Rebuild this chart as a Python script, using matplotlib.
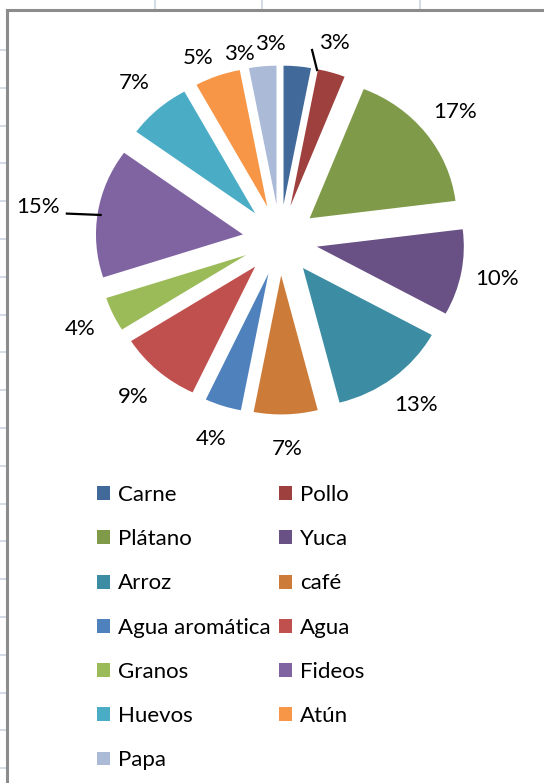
import matplotlib
matplotlib.use("Agg")
import matplotlib.pyplot as plt
from matplotlib.patches import Patch
import numpy as np

plt.rcParams['font.family'] = ['Lato', 'DejaVu Sans']

# data (percent of total)
categorias = ['Carne', 'Pollo', 'Plátano', 'Yuca', 'Arroz', 'café',
              'Agua aromática', 'Agua', 'Granos', 'Fideos', 'Huevos',
              'Atún', 'Papa']
valores = [3, 3, 17, 10, 13, 7, 4, 9, 4, 15, 7, 5, 3]
colores = ['#416A9B', '#9E413E', '#7F9A48', '#695185', '#3C8DA3', '#CC7B38',
           '#4F81BD', '#C0504D', '#9BBB59', '#8064A2', '#4BACC6', '#F79646',
           '#AABAD7']

W, H = 544, 783
fig = plt.figure(figsize=(W / 100, H / 100), dpi=100)

# spreadsheet grid behind the chart
grid_c = '#CCD5E3'
for x in [155, 262, 420]:
    fig.add_artist(plt.Line2D([x / W, x / W], [1, 1 - 10 / H], color=grid_c, lw=1.2))
for y in np.arange(50, H, 37.8):
    fig.add_artist(plt.Line2D([0, 7 / W], [1 - y / H, 1 - y / H], color=grid_c, lw=1.2))
# chart border
fig.add_artist(plt.Line2D([7 / W, 7 / W], [0, 1 - 10 / H], color='#8C8C8C', lw=2.2))
fig.add_artist(plt.Line2D([7 / W, 1], [1 - 10 / H, 1 - 10 / H], color='#8C8C8C', lw=2.2))

# pie axes: centre at (280, 240) px, unit radius 147 px wide, 139 px tall
cx, cy, rx, ry = 280, 240, 147, 139
half = 220
ax = fig.add_axes([(cx - half) / W, (H - cy - half) / H, 2 * half / W, 2 * half / H])
wedges, _, pcts = ax.pie(valores, colors=colores, startangle=90, counterclock=False,
                         explode=[0.255] * len(valores), autopct='%1.0f%%',
                         pctdistance=1.25, wedgeprops=dict(linewidth=0),
                         textprops=dict(fontsize=16, color='black'))
ax.set_aspect('auto')
ax.set_xlim(-half / rx, half / rx)
ax.set_ylim(-half / ry, half / ry)

# Excel moved some crowded labels
nudges = {0: (-0.21, -0.09), 1: (-0.05, -0.025), 12: (-0.135, -0.16),
          11: (-0.045, -0.11), 9: (-0.16, 0.0)}
for i, (dx, dy) in nudges.items():
    px, py = pcts[i].get_position()
    pcts[i].set_position((px + dx, py + dy))

# leader lines
ax.plot([0.252, 0.218], [1.223, 1.367], color='black', lw=1.6)
ax.plot([-1.22, -1.45], [0.18, 0.19], color='black', lw=1.6)

# legend, filled row by row like Excel
handles = [Patch(facecolor=c, edgecolor='none') for c in colores]
order = list(range(0, 13, 2)) + list(range(1, 13, 2))
fig.legend([handles[i] for i in order], [categorias[i] for i in order],
           ncol=2, loc='upper left', bbox_to_anchor=(97 / W, 1 - 485 / H),
           frameon=False, fontsize=16, handlelength=0.58, handleheight=0.58,
           handletextpad=0.36, columnspacing=0.4, labelspacing=1.09,
           borderpad=0, borderaxespad=0)

fig.savefig('out.png', dpi=100)
